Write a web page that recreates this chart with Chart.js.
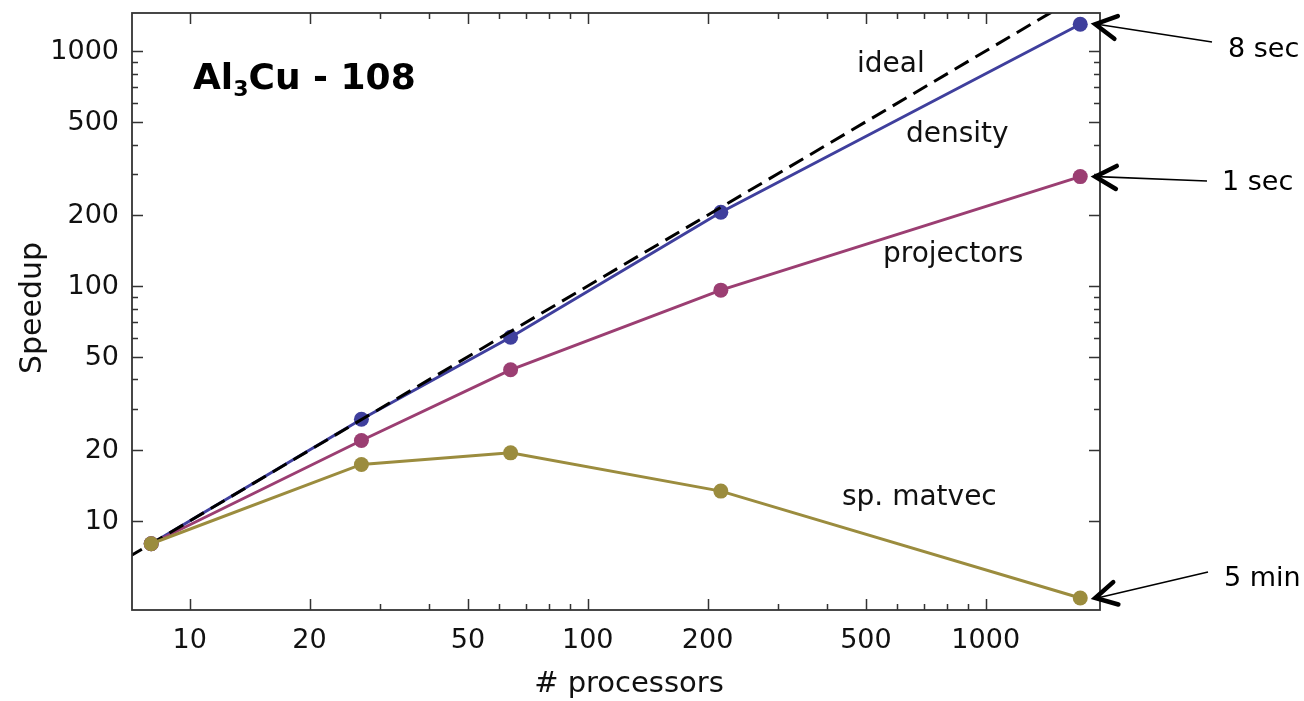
<!DOCTYPE html>
<html>
<head>
<meta charset="utf-8">
<script src="https://cdn.jsdelivr.net/npm/chart.js@4/dist/chart.umd.min.js"></script>
<style>
  html, body { margin: 0; padding: 0; background: #ffffff; }
  #wrap { width: 1304px; height: 701px; }
</style>
</head>
<body>
<div id="wrap"><canvas id="c" width="1304" height="701"></canvas></div>
<script>
// ---- data ----
const processors = [8, 27, 64, 216, 1728];
const density    = [8, 27.1, 60.5, 206, 1300];
const projectors = [8, 22.0, 44, 96, 292];
const matvec     = [8, 17.4, 19.5, 13.4, 4.7];
const idealX     = [7, 2000];            // ideal speedup: y = x
const tickLabels = [10, 20, 50, 100, 200, 500, 1000];
const minorTicks = [30, 40, 60, 70, 80, 90, 300, 400, 600, 700, 800, 900];
const xRange = [7.16, 1937];
const yRange = [4.18, 1451];
const seriesNames = ['ideal', 'density', 'projectors', 'sp. matvec'];
const timeNotes = ['8 sec', '1 sec', '5 min'];   // density, projectors, matvec at 1728

const C_DENS = '#3f3f9d';
const C_PROJ = '#9b3e72';
const C_MATV = '#9b8c3e';
const FONT = '"DejaVu Sans", "Liberation Sans", Arial, sans-serif';

function pts(xs, ys) { return xs.map((x, i) => ({ x: x, y: ys[i] })); }

const decorations = {
  id: 'decorations',
  afterDraw(chart) {
    const ctx = chart.ctx;
    const xs = chart.scales.x, ys = chart.scales.y;
    const a = chart.chartArea;
    ctx.save();

    // frame
    ctx.strokeStyle = '#333';
    ctx.lineWidth = 1.8;
    ctx.strokeRect(a.left, a.top, a.right - a.left, a.bottom - a.top);

    // ticks (inward, all four sides)
    ctx.lineWidth = 1.5;
    function tick(v, len) {
      const px = Math.round(xs.getPixelForValue(v)) + 0.5;
      if (px > a.left + 1 && px < a.right - 1) {
        ctx.beginPath();
        ctx.moveTo(px, a.bottom); ctx.lineTo(px, a.bottom - len);
        ctx.moveTo(px, a.top); ctx.lineTo(px, a.top + len);
        ctx.stroke();
      }
      const py = Math.round(ys.getPixelForValue(v)) + 0.5;
      if (py > a.top + 1 && py < a.bottom - 1) {
        ctx.beginPath();
        ctx.moveTo(a.left, py); ctx.lineTo(a.left + len, py);
        ctx.moveTo(a.right, py); ctx.lineTo(a.right - len, py);
        ctx.stroke();
      }
    }
    tickLabels.forEach(v => tick(v, 11));
    minorTicks.forEach(v => tick(v, 6));

    // tick labels
    ctx.fillStyle = '#111';
    ctx.font = '27px ' + FONT;
    ctx.textAlign = 'right';
    ctx.textBaseline = 'middle';
    tickLabels.forEach(v => {
      ctx.fillText(String(v), a.left - 13, ys.getPixelForValue(v) + 1);
    });
    ctx.textAlign = 'center';
    ctx.textBaseline = 'alphabetic';
    tickLabels.forEach(v => {
      ctx.fillText(String(v), xs.getPixelForValue(v), a.bottom + 38);
    });

    // axis titles
    ctx.font = '29px ' + FONT;
    ctx.textAlign = 'center';
    ctx.fillText('# processors', 629, 692);
    ctx.save();
    ctx.translate(41, 308);
    ctx.rotate(-Math.PI / 2);
    ctx.font = '30px ' + FONT;
    ctx.fillText('Speedup', 0, 0);
    ctx.restore();

    // chart title  Al3Cu - 108
    ctx.textAlign = 'left';
    ctx.fillStyle = '#000';
    let tx = 193;
    ctx.font = 'bold 36px ' + FONT;
    ctx.fillText('Al', tx, 89);
    tx += ctx.measureText('Al').width;
    ctx.font = 'bold 22px ' + FONT;
    ctx.fillText('3', tx, 96);
    tx += ctx.measureText('3').width;
    ctx.font = 'bold 36px ' + FONT;
    ctx.fillText('Cu - 108', tx, 89);

    // series labels
    ctx.font = '28px ' + FONT;
    ctx.fillStyle = '#111';
    ctx.fillText(seriesNames[0], 857, 72);
    ctx.fillText(seriesNames[1], 906, 142);
    ctx.fillText(seriesNames[2], 883, 262);
    ctx.fillText(seriesNames[3], 842, 505);

    // arrows to the last points with timing notes
    const lastX = xs.getPixelForValue(processors[processors.length - 1]);
    const targets = [
      { y: ys.getPixelForValue(density[4]),    tail: [1212, 42],  text: [1228, 57],  label: timeNotes[0] },
      { y: ys.getPixelForValue(projectors[4]), tail: [1207, 181], text: [1222, 190], label: timeNotes[1] },
      { y: ys.getPixelForValue(matvec[4]),     tail: [1208, 572], text: [1224, 586], label: timeNotes[2] }
    ];
    targets.forEach(t => {
      const tipX = lastX + 15, tipY = t.y;
      ctx.strokeStyle = '#000';
      ctx.lineWidth = 1.6;
      ctx.beginPath();
      ctx.moveTo(t.tail[0], t.tail[1]);
      ctx.lineTo(tipX + 2, tipY);
      ctx.stroke();
      const ang = Math.atan2(t.tail[1] - tipY, t.tail[0] - tipX);
      const L = 24, spread = 0.5;
      ctx.lineWidth = 4.5;
      ctx.lineCap = 'round';
      ctx.lineJoin = 'miter';
      ctx.beginPath();
      ctx.moveTo(tipX + L * Math.cos(ang - spread), tipY + L * Math.sin(ang - spread));
      ctx.lineTo(tipX, tipY);
      ctx.lineTo(tipX + L * Math.cos(ang + spread), tipY + L * Math.sin(ang + spread));
      ctx.stroke();
      ctx.lineCap = 'butt';
      ctx.fillStyle = '#000';
      ctx.font = '27px ' + FONT;
      ctx.textAlign = 'left';
      ctx.fillText(t.label, t.text[0], t.text[1]);
    });

    ctx.restore();
  }
};

function series(label, ys, color, order) {
  return {
    label: label,
    data: pts(processors, ys),
    borderColor: color,
    backgroundColor: color,
    borderWidth: 3,
    pointRadius: 7.5,
    pointHoverRadius: 7.5,
    pointBorderWidth: 0,
    pointBackgroundColor: color,
    tension: 0,
    order: order
  };
}

new Chart(document.getElementById('c'), {
  type: 'line',
  data: {
    datasets: [
      series('density', density, C_DENS, 3),
      series('projectors', projectors, C_PROJ, 2),
      {
        label: 'ideal',
        data: pts(idealX, idealX),
        borderColor: '#000',
        borderWidth: 3,
        borderDash: [16, 8],
        pointRadius: 0,
        tension: 0,
        order: 1
      },
      series('sp. matvec', matvec, C_MATV, 0)
    ]
  },
  options: {
    responsive: false,
    animation: false,
    events: [],
    layout: { padding: { left: 132, right: 204, top: 13, bottom: 91 } },
    plugins: { legend: { display: false }, tooltip: { enabled: false }, title: { display: false } },
    scales: {
      x: { type: 'logarithmic', min: xRange[0], max: xRange[1], display: false },
      y: { type: 'logarithmic', min: yRange[0], max: yRange[1], display: false }
    }
  },
  plugins: [decorations]
});
</script>
</body>
</html>
